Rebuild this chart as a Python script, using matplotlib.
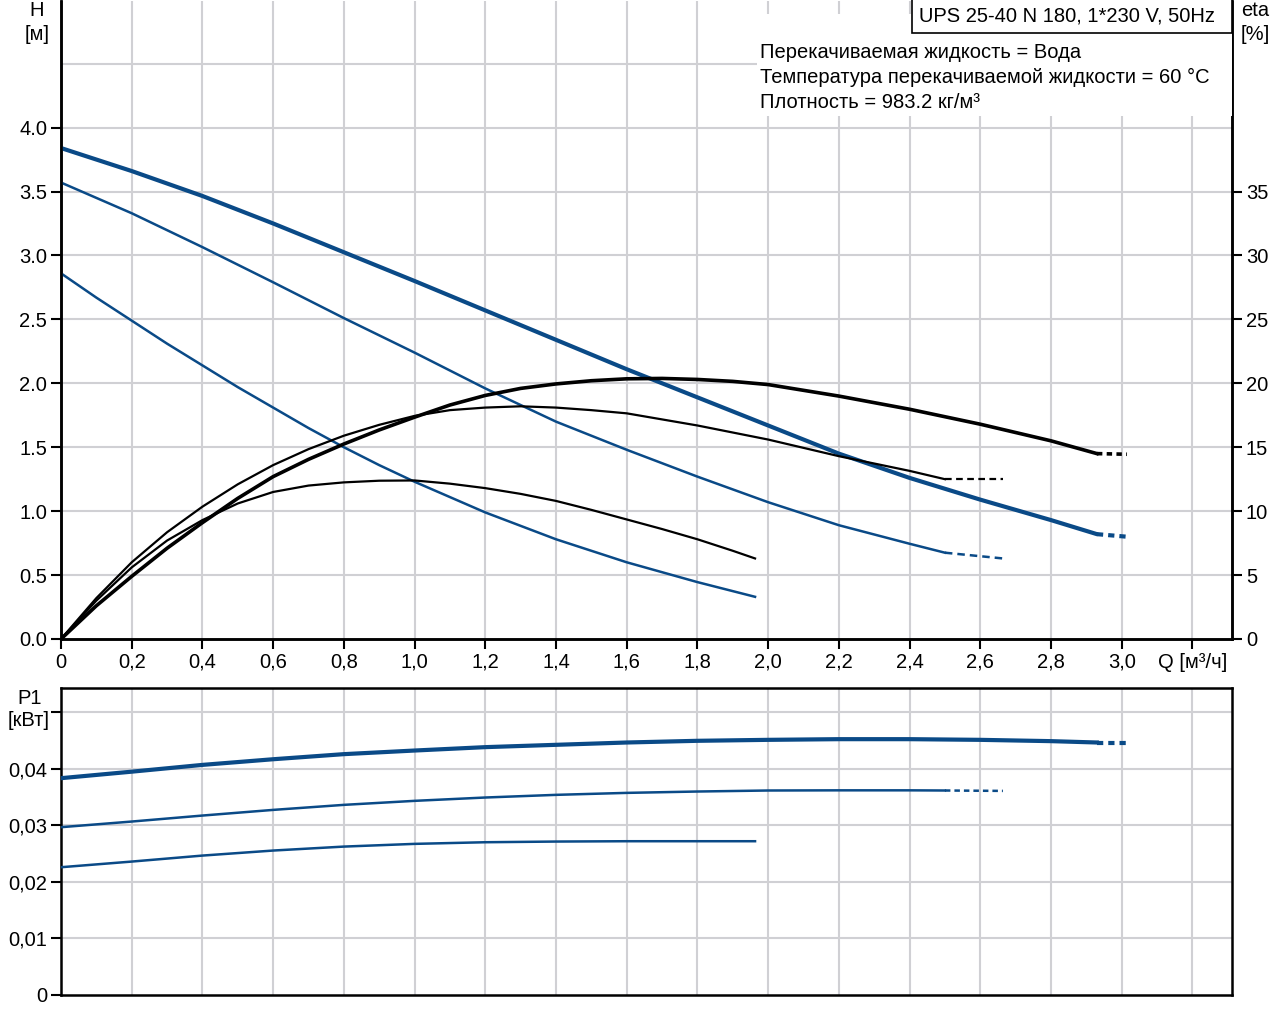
import numpy as np
import matplotlib.pyplot as plt

plt.rcParams['font.family'] = ['Liberation Sans', 'DejaVu Sans']
plt.rcParams['font.size'] = 14.5

BLUE = '#0a4a87'
GRID = '#d0d0d4'

# H curves [m] vs Q [m3/h]
q_h1 = [0, 0.2, 0.4, 0.6, 0.8, 1.0, 1.2, 1.4, 1.6, 1.8, 2.0, 2.2, 2.4, 2.6, 2.8, 2.93]
h1 = [3.84, 3.66, 3.465, 3.25, 3.025, 2.80, 2.57, 2.34, 2.11, 1.89, 1.67, 1.45, 1.26, 1.09, 0.93, 0.82]
q_h1_ext = [2.93, 3.015]
h1_ext = [0.82, 0.80]

q_h2 = [0, 0.2, 0.4, 0.6, 0.8, 1.0, 1.2, 1.4, 1.6, 1.8, 2.0, 2.2, 2.4, 2.5]
h2 = [3.57, 3.33, 3.065, 2.79, 2.51, 2.24, 1.96, 1.70, 1.48, 1.27, 1.07, 0.89, 0.745, 0.675]
q_h2_ext = [2.5, 2.664]
h2_ext = [0.675, 0.63]

q_h3 = [0, 0.1, 0.2, 0.3, 0.4, 0.5, 0.6, 0.7, 0.8, 0.9, 1.0, 1.2, 1.4, 1.6, 1.8, 1.963]
h3 = [2.86, 2.67, 2.49, 2.31, 2.14, 1.97, 1.81, 1.65, 1.50, 1.36, 1.23, 0.99, 0.78, 0.60, 0.445, 0.33]

# efficiency curves [%]
q_e1 = [0, 0.1, 0.2, 0.3, 0.4, 0.5, 0.6, 0.7, 0.8, 0.9, 1.0, 1.1, 1.2, 1.3, 1.4, 1.5,
        1.6, 1.7, 1.8, 1.9, 2.0, 2.2, 2.4, 2.6, 2.8, 2.93]
e1 = [0, 2.6, 4.9, 7.1, 9.1, 11.0, 12.7, 14.05, 15.25, 16.35, 17.35, 18.3, 19.05, 19.6, 19.95, 20.2,
      20.35, 20.38, 20.3, 20.15, 19.9, 19.0, 17.97, 16.8, 15.5, 14.5]
q_e1_ext = [2.93, 3.015]
e1_ext = [14.5, 14.45]

q_e2 = [0, 0.1, 0.2, 0.3, 0.4, 0.5, 0.6, 0.7, 0.8, 0.9, 1.0, 1.1, 1.2, 1.3, 1.4, 1.5,
        1.6, 1.8, 2.0, 2.2, 2.4, 2.5]
e2 = [0, 3.2, 6.0, 8.35, 10.35, 12.1, 13.6, 14.85, 15.9, 16.75, 17.45, 17.9, 18.1, 18.2, 18.1, 17.9,
      17.65, 16.7, 15.6, 14.3, 13.15, 12.5]
q_e2_ext = [2.5, 2.664]
e2_ext = [12.5, 12.5]

q_e3 = [0, 0.1, 0.2, 0.3, 0.4, 0.5, 0.6, 0.7, 0.8, 0.9, 1.0, 1.1, 1.2, 1.3, 1.4, 1.5,
        1.6, 1.7, 1.8, 1.9, 1.963]
e3 = [0, 3.0, 5.6, 7.7, 9.3, 10.6, 11.5, 12.0, 12.25, 12.38, 12.4, 12.15, 11.8, 11.35, 10.8, 10.1,
      9.35, 8.6, 7.8, 6.9, 6.3]

# power curves [kW]
q_p1 = [0, 0.2, 0.4, 0.6, 0.8, 1.0, 1.2, 1.4, 1.6, 1.8, 2.0, 2.2, 2.4, 2.6, 2.8, 2.93]
p1 = [0.03835, 0.0395, 0.0407, 0.0417, 0.0426, 0.04324, 0.04384, 0.04425, 0.04466,
      0.04496, 0.04513, 0.04525, 0.04525, 0.04513, 0.0449, 0.04466]
q_p1_ext = [2.93, 3.015]
p1_ext = [0.04466, 0.04466]

q_p2 = [0, 0.2, 0.4, 0.6, 0.8, 1.0, 1.2, 1.4, 1.6, 1.8, 2.0, 2.2, 2.4, 2.5]
p2 = [0.02968, 0.03068, 0.03174, 0.03274, 0.03363, 0.03434, 0.03493, 0.0354,
      0.03575, 0.03599, 0.03617, 0.0362, 0.0362, 0.03617]
q_p2_ext = [2.5, 2.664]
p2_ext = [0.03617, 0.0361]

q_p3 = [0, 0.2, 0.4, 0.6, 0.8, 1.0, 1.2, 1.4, 1.6, 1.8, 1.963]
p3 = [0.0226, 0.0236, 0.02466, 0.02555, 0.02625, 0.02673, 0.02702, 0.02714, 0.0272, 0.0272, 0.0272]

x_ticks = [0, 0.2, 0.4, 0.6, 0.8, 1.0, 1.2, 1.4, 1.6, 1.8, 2.0, 2.2, 2.4, 2.6, 2.8, 3.0, 3.2]
x_labels = ['0', '0,2', '0,4', '0,6', '0,8', '1,0', '1,2', '1,4', '1,6', '1,8', '2,0',
            '2,2', '2,4', '2,6', '2,8', '3,0', 'Q [м³/ч]']
h_ticks = [0, 0.5, 1.0, 1.5, 2.0, 2.5, 3.0, 3.5, 4.0]
h_labels = ['0.0', '0.5', '1.0', '1.5', '2.0', '2.5', '3.0', '3.5', '4.0']
eta_ticks = [0, 5, 10, 15, 20, 25, 30, 35]
p_ticks = [0, 0.01, 0.02, 0.03, 0.04, 0.05]
p_labels = ['0', '0,01', '0,02', '0,03', '0,04', '']

fig = plt.figure(figsize=(12.8, 10.24), dpi=100)

# ---- top: H / eta ----
ax = fig.add_axes([61 / 1280, 1 - 639 / 1024, 1171 / 1280, 638 / 1024])
ax.set_xlim(0, 3.312)
ax.set_ylim(0, 4.99)
for q in np.arange(0.2, 3.21, 0.2):
    ax.axvline(q, color=GRID, lw=1.5, zorder=0)
for h in np.arange(0.5, 4.51, 0.5):
    ax.axhline(h, color=GRID, lw=1.5, zorder=0)
ax.set_xticks(x_ticks)
ax.set_xticklabels(x_labels)
ax.set_yticks(h_ticks)
ax.set_yticklabels(h_labels)
ax.tick_params(direction='out', length=7, width=1.5, pad=3)
for s in ax.spines.values():
    s.set_linewidth(1.8)
ax.spines['top'].set_visible(False)

ax.plot(q_h1, h1, color=BLUE, lw=3.0, solid_capstyle='round', zorder=3)
ax.plot(q_h1_ext, h1_ext, color=BLUE, lw=3.0, ls=(0, (1.5, 1.2)), zorder=3)
ax.plot(q_h2, h2, color=BLUE, lw=1.8, zorder=3)
ax.plot(q_h2_ext, h2_ext, color=BLUE, lw=1.8, ls=(0, (3, 2)), zorder=3)
ax.plot(q_h3, h3, color=BLUE, lw=1.8, zorder=3)

ax2 = ax.twinx()
ax2.set_ylim(0, 49.9)
ax2.set_yticks(eta_ticks)
ax2.tick_params(direction='out', length=7, width=1.5, pad=3)
for s in ax2.spines.values():
    s.set_linewidth(1.8)
ax2.spines['top'].set_visible(False)
ax2.plot(q_e1, e1, color='black', lw=2.6, zorder=3)
ax2.plot(q_e1_ext, e1_ext, color='black', lw=2.6, ls=(0, (1.5, 1.2)), zorder=3)
ax2.plot(q_e2, e2, color='black', lw=1.6, zorder=3)
ax2.plot(q_e2_ext, e2_ext, color='black', lw=1.6, ls=(0, (3, 2)), zorder=3)
ax2.plot(q_e3, e3, color='black', lw=1.6, zorder=3)

# info area
ax2.add_patch(plt.Rectangle((0.594, 0.82), 0.41, 0.16, transform=ax.transAxes,
                            facecolor='white', edgecolor='none', zorder=4))
ax2.add_patch(plt.Rectangle((0.727, 0.95), 0.273, 0.06, transform=ax.transAxes,
                            facecolor='white', edgecolor='black', lw=1.2, zorder=5,
                            clip_on=False))
ax2.text(0.733, 0.976, 'UPS 25-40 N 180, 1*230 V, 50Hz', transform=ax.transAxes,
         ha='left', va='center', zorder=6)
info = ['Перекачиваемая жидкость = Вода',
        'Температура перекачиваемой жидкости = 60 °C',
        'Плотность = 983.2 кг/м³']
for i, line in enumerate(info):
    ax2.text(0.597, 0.920 - i * 0.0395, line, transform=ax.transAxes,
             ha='left', va='center', zorder=6)

fig.text(37 / 1280, 1 - 10 / 1024, 'H', ha='center', va='center')
fig.text(37 / 1280, 1 - 34 / 1024, '[м]', ha='center', va='center')
fig.text(1255 / 1280, 1 - 10 / 1024, 'eta', ha='center', va='center')
fig.text(1255 / 1280, 1 - 34 / 1024, '[%]', ha='center', va='center')

# ---- bottom: P1 ----
bx = fig.add_axes([61 / 1280, 1 - 995 / 1024, 1171 / 1280, 307 / 1024])
bx.set_xlim(0, 3.312)
bx.set_ylim(0, 0.0543)
for q in np.arange(0.2, 3.21, 0.2):
    bx.axvline(q, color=GRID, lw=1.5, zorder=0)
for p in [0.01, 0.02, 0.03, 0.04, 0.05]:
    bx.axhline(p, color=GRID, lw=1.5, zorder=0)
bx.set_xticks([])
bx.set_yticks(p_ticks)
bx.set_yticklabels(p_labels)
bx.tick_params(direction='out', length=7, width=1.5, pad=3)
for s in bx.spines.values():
    s.set_linewidth(1.8)

bx.plot(q_p1, p1, color=BLUE, lw=3.0, zorder=3)
bx.plot(q_p1_ext, p1_ext, color=BLUE, lw=3.0, ls=(0, (1.5, 1.2)), zorder=3)
bx.plot(q_p2, p2, color=BLUE, lw=1.8, zorder=3)
bx.plot(q_p2_ext, p2_ext, color=BLUE, lw=1.8, ls=(0, (2.2, 1.6)), zorder=3)
bx.plot(q_p3, p3, color=BLUE, lw=1.8, zorder=3)

fig.text(30 / 1280, 1 - 698 / 1024, 'P1', ha='center', va='center')
fig.text(29 / 1280, 1 - 721 / 1024, '[кВт]', ha='center', va='center')

fig.savefig('out.png', dpi=100, facecolor='white')
